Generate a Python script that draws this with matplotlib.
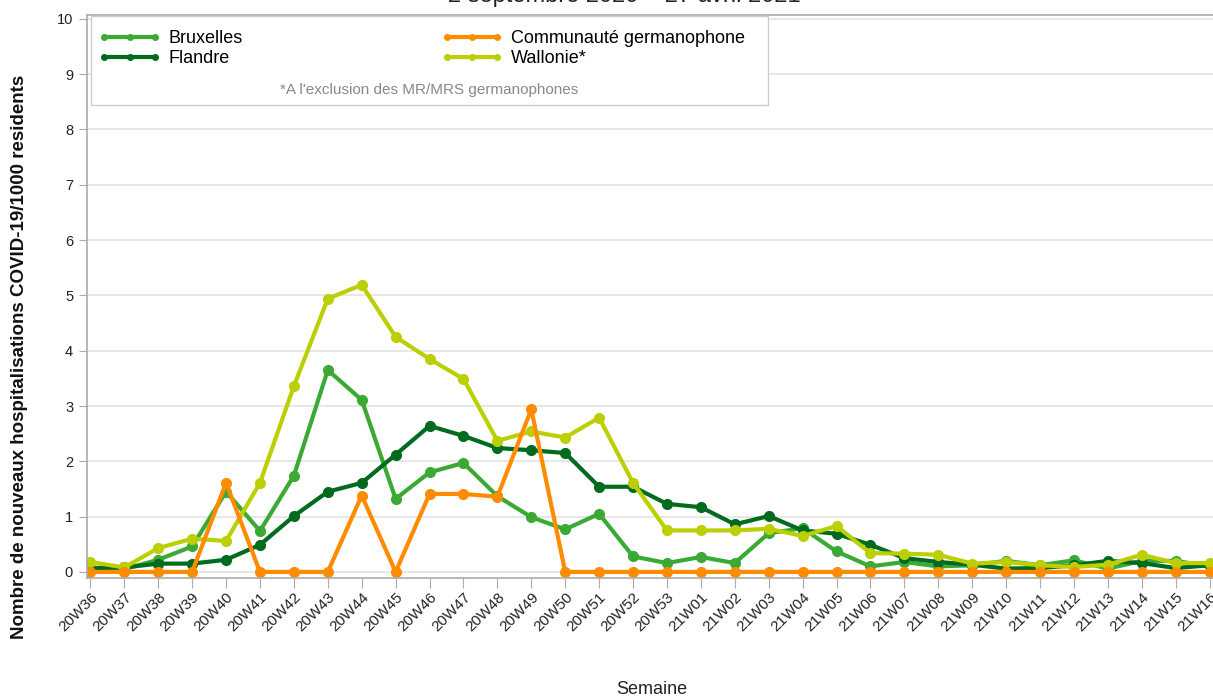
import matplotlib
matplotlib.use('Agg')
import matplotlib.pyplot as plt
from matplotlib.patches import Rectangle
from matplotlib.lines import Line2D

plt.rcParams['font.family'] = ['Liberation Sans', 'DejaVu Sans']

weeks = ['20W36', '20W37', '20W38', '20W39', '20W40', '20W41', '20W42', '20W43', '20W44',
         '20W45', '20W46', '20W47', '20W48', '20W49', '20W50', '20W51', '20W52', '20W53',
         '21W01', '21W02', '21W03', '21W04', '21W05', '21W06', '21W07', '21W08', '21W09',
         '21W10', '21W11', '21W12', '21W13', '21W14', '21W15', '21W16']

bruxelles = [0.05, 0.05, 0.22, 0.46, 1.45, 0.74, 1.74, 3.65, 3.11, 1.32, 1.80, 1.97, 1.37,
             0.99, 0.77, 1.05, 0.28, 0.16, 0.27, 0.16, 0.70, 0.79, 0.37, 0.10, 0.18, 0.10,
             0.12, 0.20, 0.12, 0.21, 0.06, 0.20, 0.20, 0.10]
flandre = [0.07, 0.08, 0.15, 0.15, 0.22, 0.49, 1.01, 1.45, 1.61, 2.12, 2.64, 2.46, 2.24,
           2.20, 2.15, 1.54, 1.54, 1.23, 1.17, 0.86, 1.01, 0.75, 0.69, 0.49, 0.25, 0.18,
           0.13, 0.06, 0.07, 0.12, 0.20, 0.16, 0.07, 0.12]
germano = [0, 0, 0, 0, 1.61, 0, 0, 0, 1.38, 0, 1.41, 1.41, 1.36, 2.94, 0, 0, 0, 0,
           0, 0, 0, 0, 0, 0, 0, 0, 0, 0, 0, 0, 0, 0, 0, 0]
wallonie = [0.18, 0.08, 0.43, 0.60, 0.56, 1.61, 3.36, 4.94, 5.19, 4.25, 3.85, 3.49, 2.37,
            2.54, 2.43, 2.79, 1.61, 0.75, 0.75, 0.75, 0.78, 0.65, 0.83, 0.34, 0.33, 0.31,
            0.15, 0.18, 0.12, 0.09, 0.13, 0.31, 0.16, 0.16]

series = [
    ('Bruxelles', bruxelles, '#3aaa35'),
    ('Flandre', flandre, '#006a1f'),
    ('Wallonie*', wallonie, '#bccf02'),
    ('Communauté germanophone', germano, '#ff8c00'),
]

W, H = 1213, 698
AX_L, AX_T, AX_B = 87, 15, 578
fig = plt.figure(figsize=(W / 100, H / 100), dpi=100)
ax = fig.add_axes([AX_L / W, 1 - AX_B / H, (W - AX_L) / W, (AX_B - AX_T) / H])


def ax_xy(px, py):
    # pixel position in the picture -> axes fraction
    return (px - AX_L) / (W - AX_L), 1 - (py - AX_T) / (AX_B - AX_T)


x = list(range(len(weeks)))
for name, vals, col in series:
    ax.plot(x, vals, color=col, lw=3.0, marker='o', ms=7, label=name,
            solid_joinstyle='round')

ax.set_xlim(-0.1, 33.1)
ax.set_ylim(-0.11, 10.07)
ax.set_yticks(range(0, 11))
ax.set_xticks(x)
ax.set_xticklabels(weeks, rotation=45, ha='right', rotation_mode='anchor', fontsize=11)
ax.tick_params(axis='x', length=7, color='#aaaaaa', labelcolor='#222222', pad=2)
ax.tick_params(axis='y', length=6, color='#aaaaaa', labelsize=10.5, labelcolor='#222222', pad=4)
ax.grid(axis='y', color='#e3e3e3', lw=1.2)
ax.set_axisbelow(True)
for s in ['left', 'bottom', 'top']:
    ax.spines[s].set_color('#aaaaaa')
    ax.spines[s].set_linewidth(1.2)
ax.spines['right'].set_visible(False)

# legend box
bx, by = ax_xy(91, 105)
bx2, by2 = ax_xy(768, 16)
ax.add_patch(Rectangle((bx, by), bx2 - bx, by2 - by, transform=ax.transAxes,
                       facecolor='white', edgecolor='#cccccc', lw=1, zorder=5))
handles = []
for name in ['Bruxelles', 'Flandre', 'Communauté germanophone', 'Wallonie*']:
    col = [c for n, v, c in series if n == name][0]
    handles.append(Line2D([], [], color=col, lw=3, marker='o', ms=4, label=name))
leg = ax.legend(handles=handles, ncol=2, loc='upper left',
                bbox_to_anchor=ax_xy(99, 30),
                frameon=False, fontsize=13, numpoints=3, handlelength=3.4,
                handletextpad=0.45, columnspacing=11.0, labelspacing=0.17,
                borderaxespad=0, borderpad=0)
leg.set_zorder(6)
ax.text(*ax_xy(429, 90), "*A l'exclusion des MR/MRS germanophones", transform=ax.transAxes,
        ha='center', va='center', fontsize=11, color='#888888', zorder=7)

ax.set_ylabel('Nombre de nouveaux hospitalisations COVID-19/1000 residents',
              fontsize=13.5, fontweight='bold', color='#111111')
ax.yaxis.set_label_coords(28 / W, 1 - 357 / H, transform=fig.transFigure)
fig.text(652 / W, 1 - 690 / H, 'Semaine', ha='center', va='center', fontsize=13, color='#222222')
fig.text(624 / W, 1 - 2 / H, '2 septembre 2020 – 27 avril 2021', ha='center',
         va='baseline', fontsize=17, color='#222222')

fig.savefig('out.png', dpi=100)
